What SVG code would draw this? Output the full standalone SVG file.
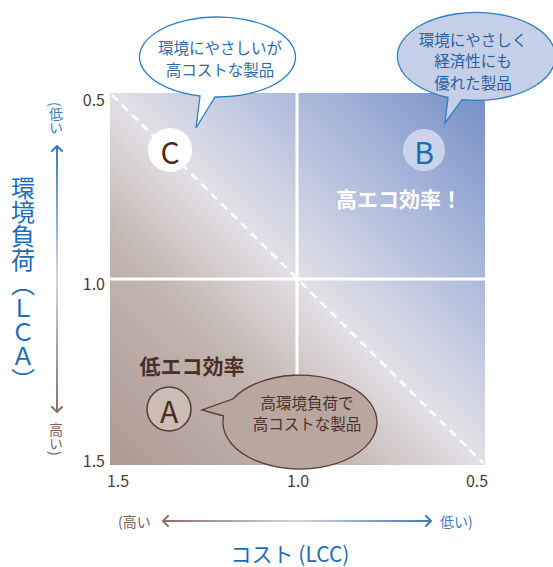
<svg xmlns="http://www.w3.org/2000/svg" width="553" height="567" viewBox="0 0 553 567">
<defs>
<linearGradient id="bg" x1="0" y1="1" x2="1" y2="0">
<stop offset="0" stop-color="#ad9a92"/>
<stop offset="0.3" stop-color="#c2b4ae"/>
<stop offset="0.5" stop-color="#e2e0e6"/>
<stop offset="0.7" stop-color="#b6c1de"/>
<stop offset="1" stop-color="#758ec7"/>
</linearGradient>
<linearGradient id="vArrow" gradientUnits="userSpaceOnUse" x1="0" y1="145" x2="0" y2="413">
<stop offset="0" stop-color="#3f78c0"/>
<stop offset="0.5" stop-color="#d6d3dc"/>
<stop offset="1" stop-color="#8a7068"/>
</linearGradient>
<linearGradient id="hArrow" gradientUnits="userSpaceOnUse" x1="162" y1="0" x2="432" y2="0">
<stop offset="0" stop-color="#8a7068"/>
<stop offset="0.5" stop-color="#d6d3dc"/>
<stop offset="1" stop-color="#3f78c0"/>
</linearGradient>
</defs>
<style>
text{font-family:"Noto Sans CJK JP","Noto Sans",sans-serif;}
.tick{font-size:16px;fill:#4a3c38;}
.bub{font-size:15.5px;text-anchor:middle;dominant-baseline:central;}
.mid{stroke:#ffffff;stroke-width:3;}
.chev{fill:none;stroke-width:2;stroke-linecap:round;stroke-linejoin:round;}
</style>

<g id="plot">
<rect x="110" y="93" width="375" height="372" fill="url(#bg)"/>
<line class="mid" x1="297" y1="93" x2="297" y2="465"/>
<line class="mid" x1="110" y1="279" x2="485" y2="279"/>
<line x1="112" y1="95" x2="483" y2="463" stroke="#ffffff" stroke-width="2.5" stroke-dasharray="8 6"/>
</g>

<g id="ticks">
<text class="tick" x="105" y="99" text-anchor="end" dominant-baseline="central">0.5</text>
<text class="tick" x="105" y="283" text-anchor="end" dominant-baseline="central">1.0</text>
<text class="tick" x="105" y="460" text-anchor="end" dominant-baseline="central">1.5</text>
<text class="tick" x="118" y="480" text-anchor="middle" dominant-baseline="central">1.5</text>
<text class="tick" x="298" y="480" text-anchor="middle" dominant-baseline="central">1.0</text>
<text class="tick" x="477" y="480" text-anchor="middle" dominant-baseline="central">0.5</text>
</g>

<g id="quadrant-labels">
<text x="192" y="365" font-size="21" font-weight="bold" fill="#4a3028" text-anchor="middle" dominant-baseline="central">低エコ効率</text>
<text x="399" y="198" font-size="21" font-weight="bold" fill="#ffffff" text-anchor="middle" dominant-baseline="central">高エコ効率！</text>
</g>

<g id="node-C">
<circle cx="170" cy="150" r="22" fill="#ffffff"/>
<text x="170" y="151" font-size="30" fill="#4a2a22" text-anchor="middle" dominant-baseline="central">C</text>
</g>
<g id="node-B">
<circle cx="424" cy="150" r="21" fill="#cad3ea"/>
<text x="424" y="151" font-size="30" fill="#1b6db5" text-anchor="middle" dominant-baseline="central">B</text>
</g>
<g id="node-A">
<circle cx="169" cy="409" r="22" fill="#cbbdb6" stroke="#5a3a30" stroke-width="1.5"/>
<text x="169" y="410" font-size="30" fill="#4a2a22" text-anchor="middle" dominant-baseline="central">A</text>
</g>

<g id="bubble-C">
<path d="M 200,96 A 78 40 0 1 1 215,97 L 196,128 Z" fill="#ffffff" stroke="#2f7fc1" stroke-width="1.3"/>
<text class="bub" x="220" y="46.5" fill="#2e6aa8">環境にやさしいが</text>
<text class="bub" x="220" y="68.5" fill="#2e6aa8">高コストな製品</text>
</g>
<g id="bubble-B">
<path d="M 448,97.5 A 79 44 0 1 1 462,99.7 L 445,123 Z" fill="#c5d0e8" stroke="#2f7fc1" stroke-width="1.3"/>
<text class="bub" x="473" y="38.5" fill="#2c5f9e">環境にやさしく</text>
<text class="bub" x="473" y="60" fill="#2c5f9e">経済性にも</text>
<text class="bub" x="473" y="81.5" fill="#2c5f9e">優れた製品</text>
</g>
<g id="bubble-A">
<path d="M 223.6,416 L 202,410 L 232.9,399 A 77 47 0 1 1 223.6,416 Z" fill="#b9a69e" stroke="#5a3a30" stroke-width="1.3"/>
<text class="bub" x="307" y="402" font-size="16.5" fill="#4a3028">高環境負荷で</text>
<text class="bub" x="307" y="423" font-size="16.5" fill="#4a3028">高コストな製品</text>
</g>

<g id="axis-y">
<line x1="57" y1="146" x2="57" y2="412" stroke="url(#vArrow)" stroke-width="2"/>
<polyline class="chev" points="52,151 57,146 62,151" stroke="#3f78c0"/>
<polyline class="chev" points="52,407 57,412 62,407" stroke="#8a7068"/>
<text x="56" y="102" font-size="14" fill="#3f78c0" writing-mode="vertical-rl">(低い</text>
<text x="56" y="423" font-size="14" fill="#7a6058" writing-mode="vertical-rl">高い)</text>
<text x="23" y="176" font-size="24" fill="#1b6db5" writing-mode="vertical-rl">環境負荷（ＬＣＡ）</text>
</g>

<g id="axis-x">
<line x1="163" y1="521" x2="431" y2="521" stroke="url(#hArrow)" stroke-width="2"/>
<polyline class="chev" points="168,516 163,521 168,526" stroke="#8a7068"/>
<polyline class="chev" points="426,516 431,521 426,526" stroke="#3f78c0"/>
<text x="118" y="521" font-size="14" fill="#7a6058" dominant-baseline="central">(高い</text>
<text x="440" y="521" font-size="14" fill="#3f78c0" dominant-baseline="central">低い)</text>
<text x="290" y="553" font-size="21" fill="#1b6db5" text-anchor="middle" dominant-baseline="central">コスト (LCC)</text>
</g>
</svg>
